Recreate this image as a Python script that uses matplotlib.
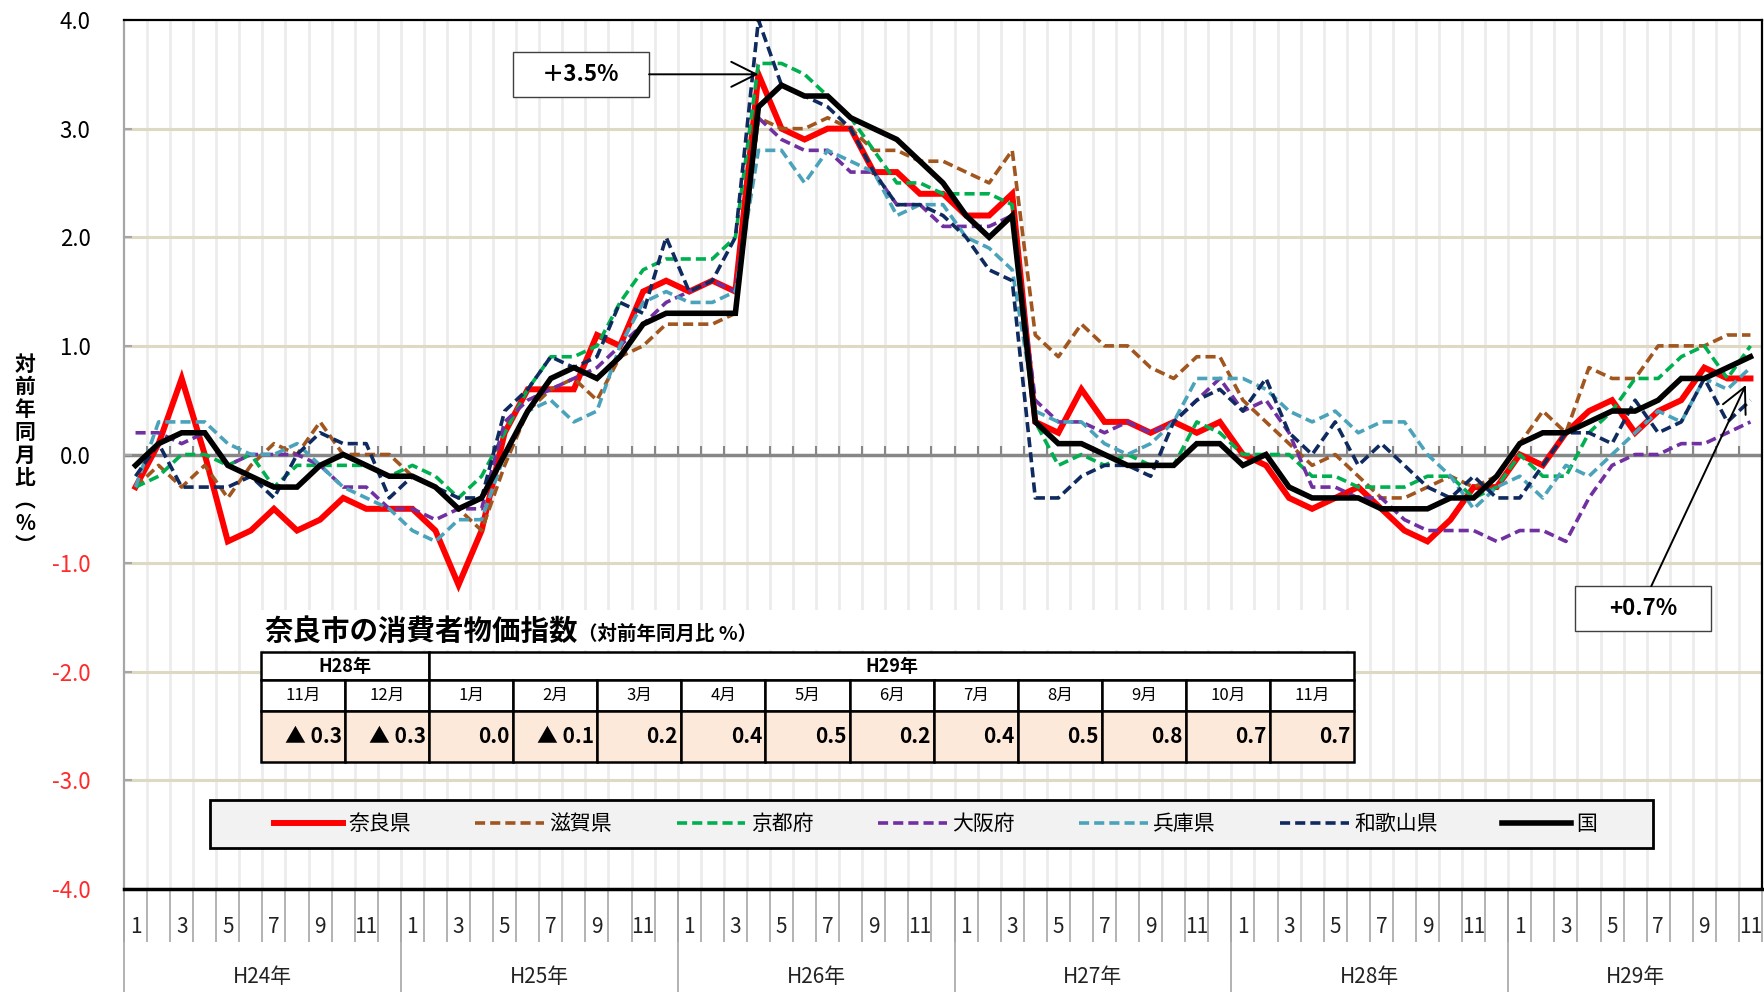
import numpy as np
import matplotlib
matplotlib.use('Agg')
import matplotlib.pyplot as plt
from matplotlib.patches import Rectangle

plt.rcParams['font.family'] = ['Noto Sans CJK JP', 'DejaVu Sans']

# 月 (H24年1月 .. H29年11月)
months = np.arange(1, 72)
years = ['H24年', 'H25年', 'H26年', 'H27年', 'H28年', 'H29年']

nara = [-0.3, 0.1, 0.7, 0.0, -0.8, -0.7, -0.5, -0.7, -0.6, -0.4, -0.5, -0.5,
        -0.5, -0.7, -1.2, -0.7, 0.2, 0.6, 0.6, 0.6, 1.1, 1.0, 1.5, 1.6,
        1.5, 1.6, 1.5, 3.5, 3.0, 2.9, 3.0, 3.0, 2.6, 2.6, 2.4, 2.4,
        2.2, 2.2, 2.4, 0.3, 0.2, 0.6, 0.3, 0.3, 0.2, 0.3, 0.2, 0.3,
        0.0, -0.1, -0.4, -0.5, -0.4, -0.3, -0.5, -0.7, -0.8, -0.6, -0.3, -0.3,
        0.0, -0.1, 0.2, 0.4, 0.5, 0.2, 0.4, 0.5, 0.8, 0.7, 0.7]
shiga = [-0.3, -0.1, -0.3, -0.1, -0.4, -0.1, 0.1, 0.0, 0.3, 0.0, 0.0, 0.0,
         -0.2, -0.3, -0.5, -0.7, -0.1, 0.4, 0.6, 0.7, 0.5, 0.9, 1.0, 1.2,
         1.2, 1.2, 1.3, 3.1, 3.0, 3.0, 3.1, 3.0, 2.8, 2.8, 2.7, 2.7,
         2.6, 2.5, 2.8, 1.1, 0.9, 1.2, 1.0, 1.0, 0.8, 0.7, 0.9, 0.9,
         0.5, 0.3, 0.1, -0.1, 0.0, -0.2, -0.4, -0.4, -0.3, -0.2, -0.3, -0.2,
         0.1, 0.4, 0.2, 0.8, 0.7, 0.7, 1.0, 1.0, 1.0, 1.1, 1.1]
kyoto = [-0.3, -0.2, 0.0, 0.0, -0.1, 0.0, -0.3, -0.1, -0.1, -0.1, -0.1, -0.2,
         -0.1, -0.2, -0.4, -0.2, 0.2, 0.6, 0.9, 0.9, 1.0, 1.4, 1.7, 1.8,
         1.8, 1.8, 2.0, 3.6, 3.6, 3.5, 3.3, 3.1, 2.8, 2.5, 2.5, 2.4,
         2.4, 2.4, 2.3, 0.3, -0.1, 0.0, -0.1, 0.0, -0.1, -0.1, 0.3, 0.2,
         0.0, 0.0, 0.0, -0.2, -0.2, -0.3, -0.3, -0.3, -0.2, -0.2, -0.4, -0.3,
         0.0, -0.2, -0.2, 0.2, 0.4, 0.7, 0.7, 0.9, 1.0, 0.7, 1.0]
osaka = [0.2, 0.2, 0.1, 0.2, -0.1, 0.0, 0.0, 0.0, -0.1, -0.3, -0.3, -0.5,
         -0.5, -0.6, -0.5, -0.5, 0.3, 0.5, 0.6, 0.7, 0.8, 1.0, 1.2, 1.4,
         1.5, 1.6, 1.5, 3.1, 2.9, 2.8, 2.8, 2.6, 2.6, 2.3, 2.3, 2.1,
         2.1, 2.1, 2.2, 0.5, 0.3, 0.3, 0.2, 0.3, 0.2, 0.3, 0.5, 0.7,
         0.4, 0.5, 0.2, -0.3, -0.3, -0.4, -0.4, -0.6, -0.7, -0.7, -0.7, -0.8,
         -0.7, -0.7, -0.8, -0.4, -0.1, 0.0, 0.0, 0.1, 0.1, 0.2, 0.3]
hyogo = [-0.3, 0.3, 0.3, 0.3, 0.1, 0.0, 0.0, 0.1, -0.1, -0.3, -0.4, -0.5,
         -0.7, -0.8, -0.6, -0.6, 0.0, 0.4, 0.5, 0.3, 0.4, 1.0, 1.4, 1.5,
         1.4, 1.4, 1.5, 2.8, 2.8, 2.5, 2.8, 2.7, 2.6, 2.2, 2.3, 2.3,
         2.0, 1.9, 1.7, 0.4, 0.3, 0.3, 0.1, 0.0, 0.1, 0.3, 0.7, 0.7,
         0.7, 0.6, 0.4, 0.3, 0.4, 0.2, 0.3, 0.3, 0.0, -0.2, -0.5, -0.3,
         -0.2, -0.4, -0.1, -0.2, 0.0, 0.2, 0.4, 0.3, 0.7, 0.6, 0.8]
wakayama = [-0.2, 0.1, -0.3, -0.3, -0.3, -0.2, -0.4, 0.0, 0.2, 0.1, 0.1, -0.4,
            -0.2, -0.3, -0.4, -0.4, 0.4, 0.6, 0.9, 0.8, 0.9, 1.4, 1.3, 2.0,
            1.5, 1.6, 2.0, 4.0, 3.4, 3.3, 3.2, 3.0, 2.6, 2.3, 2.3, 2.2,
            2.0, 1.7, 1.6, -0.4, -0.4, -0.2, -0.1, -0.1, -0.2, 0.3, 0.5, 0.6,
            0.4, 0.7, 0.2, 0.0, 0.3, -0.1, 0.1, -0.1, -0.3, -0.4, -0.2, -0.4,
            -0.4, -0.1, 0.2, 0.2, 0.1, 0.5, 0.2, 0.3, 0.7, 0.3, 0.5]
kuni = [-0.1, 0.1, 0.2, 0.2, -0.1, -0.2, -0.3, -0.3, -0.1, 0.0, -0.1, -0.2,
        -0.2, -0.3, -0.5, -0.4, 0.0, 0.4, 0.7, 0.8, 0.7, 0.9, 1.2, 1.3,
        1.3, 1.3, 1.3, 3.2, 3.4, 3.3, 3.3, 3.1, 3.0, 2.9, 2.7, 2.5,
        2.2, 2.0, 2.2, 0.3, 0.1, 0.1, 0.0, -0.1, -0.1, -0.1, 0.1, 0.1,
        -0.1, 0.0, -0.3, -0.4, -0.4, -0.4, -0.5, -0.5, -0.5, -0.4, -0.4, -0.2,
        0.1, 0.2, 0.2, 0.3, 0.4, 0.4, 0.5, 0.7, 0.7, 0.8, 0.9]

# 奈良市の表
tbl_years = ['H28年', 'H29年']
tbl_spans = [2, 11]
tbl_months = ['11月', '12月', '1月', '2月', '3月', '4月', '5月', '6月',
              '7月', '8月', '9月', '10月', '11月']
tbl_values = [-0.3, -0.3, 0.0, -0.1, 0.2, 0.4, 0.5, 0.2, 0.4, 0.5, 0.8, 0.7, 0.7]

W, H = 1765, 992
fig = plt.figure(figsize=(W / 100, H / 100), dpi=100)
ax = fig.add_axes([124 / W, 1 - 889 / H, 1638 / W, 869 / H])

ax.set_xlim(0.5, 71.5)
ax.set_ylim(-4, 4)

# grid
ax.vlines(np.arange(1.5, 71.5), -4, 4, color='#ececec', lw=2, zorder=0.5)
ax.hlines([-3, -2, -1, 1, 2, 3], 0.5, 71.5, color='#ddd9c3', lw=2.2, zorder=0.6)
ax.axhline(0, color='#878787', lw=2.5, zorder=1)
ax.vlines(np.arange(1.5, 71.5), 0, 0.08, color='#878787', lw=1.5, zorder=1)

series = [
    (nara, '奈良県', '#ff0000', '-', 4.3),
    (shiga, '滋賀県', '#a0561e', '--', 2.6),
    (kyoto, '京都府', '#00b050', '--', 2.6),
    (osaka, '大阪府', '#7030a0', '--', 2.6),
    (hyogo, '兵庫県', '#4ba3bb', '--', 2.6),
    (wakayama, '和歌山県', '#0f2a5e', '--', 2.6),
    (kuni, '国', '#000000', '-', 4.0),
]
handles = []
for k, (vals, name, col, ls, lw) in enumerate(series):
    if ls == '--':
        ln, = ax.plot(months, vals, color=col, lw=lw, dashes=(2.8, 1.4), label=name, zorder=2 + k * 0.1)
    else:
        ln, = ax.plot(months, vals, color=col, lw=lw, ls='-', label=name, zorder=2 + k * 0.1,
                      solid_joinstyle='miter')
    handles.append(ln)

# spines
for s in ['top', 'right']:
    ax.spines[s].set_color('black')
    ax.spines[s].set_linewidth(1.6)
ax.spines['bottom'].set_color('black')
ax.spines['bottom'].set_linewidth(2.5)
ax.spines['left'].set_color('#a6a6a6')
ax.spines['left'].set_linewidth(1.6)

# y axis
yt = np.arange(-4, 5)
ax.set_yticks(yt)
ax.set_yticklabels(['%.1f' % v for v in yt], fontsize=16)
for lab, v in zip(ax.get_yticklabels(), yt):
    lab.set_color('#ff2b2b' if v < 0 else 'black')
ax.tick_params(axis='y', direction='in', length=6, width=1.5, color='#a6a6a6', pad=24)
ax.set_xticks([])

# category axis (month / year)
xt = ax.get_xaxis_transform()
ax.vlines(np.arange(0.5, 72.5), -0.061, 0, transform=xt, clip_on=False, color='#a6a6a6', lw=1.2)
ax.vlines(np.arange(0.5, 72, 12), -0.12, 0, transform=xt, clip_on=False, color='#a6a6a6', lw=1.2)
for m in months:
    mm = (m - 1) % 12 + 1
    if mm % 2 == 1:
        ax.text(m, -0.044, str(mm), transform=xt, ha='center', va='center', fontsize=15, color='#222222')
for k, yl in enumerate(years):
    lo = k * 12 + 0.5
    hi = min(lo + 12, 71.5)
    ax.text((lo + hi) / 2, -0.101, yl, transform=xt, ha='center', va='center', fontsize=15, color='#222222')

# y label (vertical)
fig.text(25 / W, 1 - 455 / H, '\n'.join('対前年同月比︵%︶'), ha='center', va='center',
         fontsize=15, fontweight='bold', linespacing=1.1)

# legend
ax.add_patch(Rectangle((0.0525, 0.0472), 0.881, 0.0552, transform=ax.transAxes,
                       facecolor='#f2f2f2', edgecolor='black', lw=2, zorder=5))
leg = ax.legend(handles=handles, ncol=7, loc='center', bbox_to_anchor=(0.4955, 0.0748),
                frameon=False, prop={'size': 15}, handlelength=3.3, handletextpad=0.25,
                columnspacing=3.1, borderaxespad=0)
leg.set_zorder(6)

# annotations
ax.add_patch(Rectangle((17.36, 3.291), 5.9, 0.414, facecolor='white', edgecolor='#404040', lw=1, zorder=7))
ax.text(20.31, 3.5, '＋3.5%', ha='center', va='center', fontsize=16, fontweight='bold', zorder=8)
ax.annotate('', xy=(28, 3.5), xytext=(23.26, 3.5),
            arrowprops=dict(arrowstyle='->,head_length=0.9,head_width=0.45', color='black', lw=1.4,
                            mutation_scale=20, shrinkA=0, shrinkB=0), zorder=8)
ax.add_patch(Rectangle((63.4, -1.626), 5.89, 0.414, facecolor='white', edgecolor='#404040', lw=1, zorder=7))
ax.text(66.35, -1.42, '+0.7%', ha='center', va='center', fontsize=16, fontweight='bold', zorder=8)
ax.annotate('', xy=(70.8, 0.64), xytext=(66.7, -1.212),
            arrowprops=dict(arrowstyle='->,head_length=0.9,head_width=0.45', color='black', lw=1.4,
                            mutation_scale=20, shrinkA=0, shrinkB=0), zorder=8)

# table title
fig.patches.append(Rectangle((261 / W, 1 - 650 / H), 1093 / W, 40 / H, transform=fig.transFigure,
                             facecolor='white', edgecolor='none', zorder=1))
fig.text(265 / W, 1 - 632 / H, '奈良市の消費者物価指数', fontsize=20.5, fontweight='bold',
         ha='left', va='center', zorder=3)
fig.text(578 / W, 1 - 634 / H, '（対前年同月比 %）', fontsize=14, fontweight='bold',
         ha='left', va='center', zorder=3)

# table
tax = fig.add_axes([261 / W, 1 - 762 / H, 1093 / W, 110 / H])
tax.axis('off')
ncol = len(tbl_months)

t_year = tax.table(cellText=[tbl_years], colWidths=[s / ncol for s in tbl_spans],
                   cellLoc='center', bbox=[0, 82 / 110, 1, 28 / 110])
t_mon = tax.table(cellText=[tbl_months], cellLoc='center', bbox=[0, 51 / 110, 1, 31 / 110])
val_txt = [('▲ %.1f' % abs(v)) if v < 0 else ('%.1f' % v) for v in tbl_values]
t_val = tax.table(cellText=[val_txt], cellLoc='right', bbox=[0, 0, 1, 51 / 110])

for t, fs, fw, fc in [(t_year, 13, 'bold', 'white'), (t_mon, 12, 'normal', 'white'),
                      (t_val, 15, 'bold', '#fde9d9')]:
    t.auto_set_font_size(False)
    for cell in t.get_celld().values():
        cell.set_edgecolor('black')
        cell.set_linewidth(1.8)
        cell.set_facecolor(fc)
        cell.PAD = 0.04
        cell.get_text().set_fontsize(fs)
        cell.get_text().set_fontweight(fw)

fig.savefig('out.png', dpi=100)
